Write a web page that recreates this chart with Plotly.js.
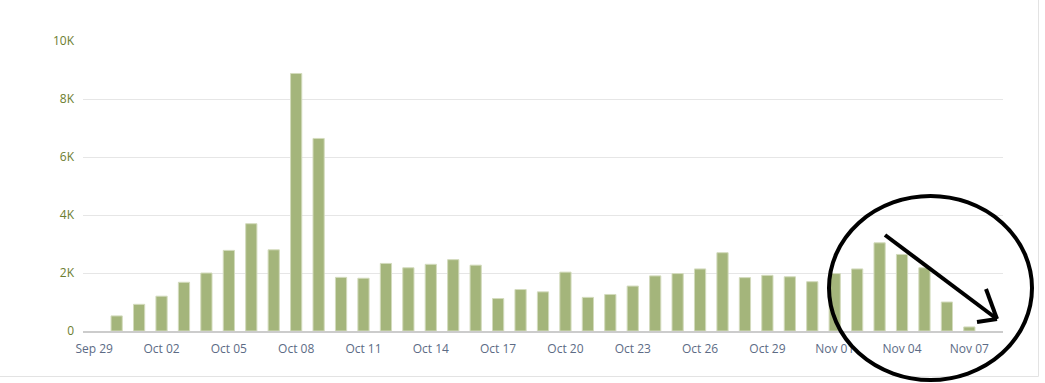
<!DOCTYPE html>
<html>
<head>
<meta charset="utf-8">
<script src="https://cdn.plot.ly/plotly-3.0.1.min.js"></script>
<style>
  html, body { margin: 0; padding: 0; background: #fff; }
  #chart { width: 1045px; height: 383px; }
</style>
</head>
<body>
<div id="chart"></div>
<script>
const dates = [
  '2023-09-30','2023-10-01','2023-10-02','2023-10-03','2023-10-04','2023-10-05','2023-10-06','2023-10-07',
  '2023-10-08','2023-10-09','2023-10-10','2023-10-11','2023-10-12','2023-10-13','2023-10-14','2023-10-15',
  '2023-10-16','2023-10-17','2023-10-18','2023-10-19','2023-10-20','2023-10-21','2023-10-22','2023-10-23',
  '2023-10-24','2023-10-25','2023-10-26','2023-10-27','2023-10-28','2023-10-29','2023-10-30','2023-10-31',
  '2023-11-01','2023-11-02','2023-11-03','2023-11-04','2023-11-05','2023-11-06','2023-11-07'
];
const counts = [
  520, 920, 1200, 1680, 2000, 2780, 3700, 2800,
  8880, 6640, 1850, 1820, 2330, 2180, 2300, 2460,
  2270, 1120, 1430, 1350, 2030, 1160, 1260, 1550,
  1900, 1980, 2140, 2700, 1840, 1920, 1870, 1700,
  1980, 2140, 3040, 2640, 2180, 1000, 140
];
const yTickVals = [0, 2000, 4000, 6000, 8000, 10000];
const yTickText = ['0', '2K', '4K', '6K', '8K', '10K'];

// pixel -> paper helpers (plot area: x 83..1003, y 41..331)
const L = 83, R = 1003, T = 41, B = 331;
const px = x => (x - L) / (R - L);
const py = y => (B - y) / (B - T);

const blackLine = {color: '#000', width: 4};
const shapes = [
  // frame lines
  {type: 'line', xref: 'paper', yref: 'paper', x0: px(1038.5), x1: px(1038.5), y0: py(0), y1: py(376.5),
   line: {color: '#e3e3e3', width: 1}, layer: 'below'},
  {type: 'line', xref: 'paper', yref: 'paper', x0: px(0), x1: px(1038.5), y0: py(376.5), y1: py(376.5),
   line: {color: '#e3e3e3', width: 1}, layer: 'below'},
  // hand-drawn circle
  {type: 'circle', xref: 'paper', yref: 'paper', x0: px(829), x1: px(1032), y0: py(380), y1: py(196),
   line: blackLine},
  // arrow
  {type: 'line', xref: 'paper', yref: 'paper', x0: px(885), y0: py(235), x1: px(997), y1: py(319), line: blackLine},
  {type: 'line', xref: 'paper', yref: 'paper', x0: px(986), y0: py(289), x1: px(997), y1: py(319), line: blackLine},
  {type: 'line', xref: 'paper', yref: 'paper', x0: px(977), y0: py(322), x1: px(997), y1: py(319), line: blackLine}
];

const trace = {
  type: 'bar',
  x: dates,
  y: counts,
  marker: {color: '#a4b57b', line: {color: '#d3dbbd', width: 1}},
  hoverinfo: 'x+y'
};

const layout = {
  width: 1045, height: 383,
  margin: {l: L, r: 1045 - R, t: T, b: 383 - B, pad: 0},
  paper_bgcolor: '#fff', plot_bgcolor: '#fff',
  bargap: 0.5,
  showlegend: false,
  font: {family: 'Open Sans, sans-serif', size: 12},
  xaxis: {
    type: 'date',
    range: ['2023-09-28 12:00', '2023-11-08 12:00'],
    tick0: '2023-09-29', dtick: 3 * 86400000,
    tickformat: '%b %d',
    showgrid: false, zeroline: false,
    showline: true, linecolor: '#cccccc', linewidth: 2,
    ticks: '', ticklabelstandoff: 6,
    tickfont: {color: '#5c6b85', size: 12, family: 'Open Sans, sans-serif'}
  },
  yaxis: {
    range: [0, 10000],
    tickvals: yTickVals, ticktext: yTickText,
    showgrid: true, gridcolor: '#e6e6e6', gridwidth: 1,
    zeroline: false, showline: false,
    ticks: '', ticklabelstandoff: 8,
    tickfont: {color: '#6b7d2e', size: 12, family: 'Open Sans, sans-serif'}
  },
  shapes: shapes
};

Plotly.newPlot('chart', [trace], layout, {displayModeBar: false, staticPlot: true});
</script>
</body>
</html>
